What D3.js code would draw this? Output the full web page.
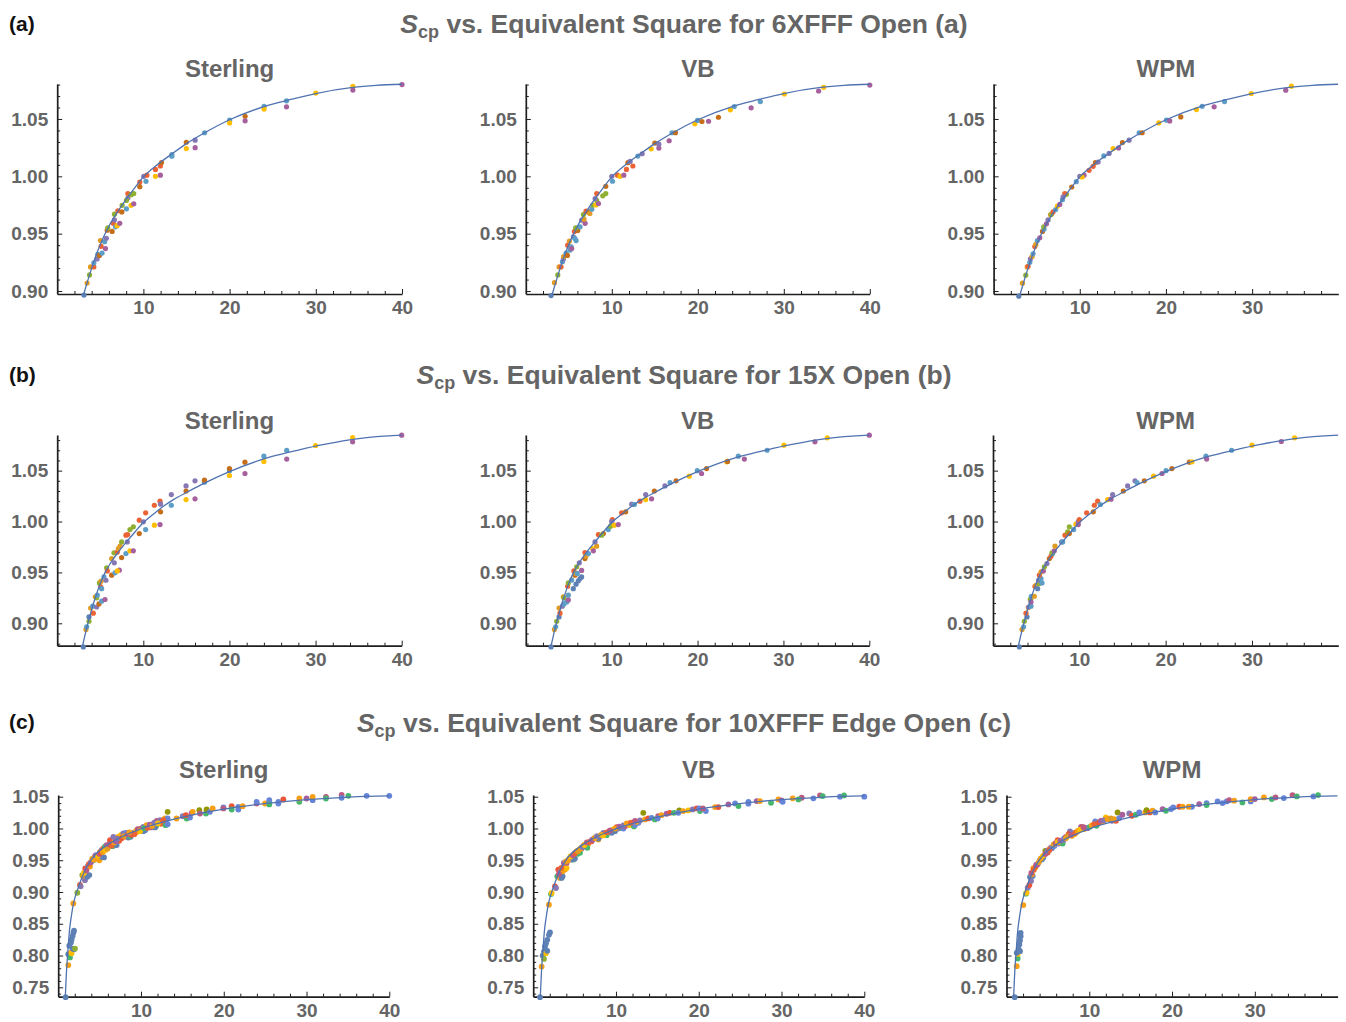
<!DOCTYPE html>
<html><head><meta charset="utf-8">
<script src="https://cdn.jsdelivr.net/npm/d3@7"></script>
<style>
body{margin:0;background:#fff}
svg{display:block}
text{font-family:"Liberation Sans",Arial,sans-serif;font-weight:bold}
</style></head>
<body><svg id="chart" width="1346" height="1022"></svg>
<script>
// Mathematica default palette (index used as 3rd element of each point)
const PALETTE = ["#5E81B5","#E19C24","#8FB032","#EB6235","#8778B3","#C56E1A","#5D9EC7","#FFBF00","#A5609D","#929600","#E95536","#6685D9","#F89F13","#BC5B80","#47B66D"];

const ROW_LABELS = ["(a)","(b)","(c)"];
const ROW_TITLES = ["6XFFF Open (a)","15X Open (b)","10XFFF Edge Open (c)"];
const PANEL_TITLES = ["Sterling","VB","WPM"];
const Y_TICKS_AB = [0.90,0.95,1.00,1.05];
const Y_TICKS_C = [0.75,0.80,0.85,0.90,0.95,1.00,1.05];
const X_TICKS = [10,20,30,40];
const X_TICKS_WPM = [10,20,30];

// fitted curves [x, Scp]
const CURVE_A = [[3.05,0.8965],[3.5,0.908],[4.0,0.920],[4.5,0.931],[5.0,0.9405],[5.5,0.949],[6.0,0.9565],[7.0,0.969],[8.0,0.980],[9.0,0.990],[10.0,0.9995],[11.5,1.0095],[13.3,1.0195],[15.0,1.0285],[17.1,1.038],[20.0,1.0493],[24.0,1.0608],[27.0,1.0668],[30.0,1.0722],[34.3,1.0775],[37,1.0793],[40,1.0803]];
const CURVE_B = [[2.95,0.878],[3.4,0.8945],[4.0,0.9135],[4.5,0.927],[4.9,0.937],[5.6,0.9505],[6.25,0.960],[7.0,0.969],[8.0,0.9795],[9.0,0.9895],[10.0,0.999],[11.2,1.0075],[12.5,1.016],[13.5,1.0215],[15.0,1.0285],[16.8,1.0365],[20.0,1.049],[24.75,1.0635],[28.1,1.0705],[31.0,1.0758],[35.0,1.0815],[40.0,1.0848]];
const CURVE_C = [[0.86,0.7352],[1.0,0.775],[1.15,0.803],[1.35,0.838],[1.6,0.863],[1.83,0.881],[2.1,0.8945],[2.4,0.906],[2.7,0.917],[3.0,0.927],[3.44,0.939],[4.0,0.951],[4.65,0.961],[5.5,0.970],[6.26,0.977],[7.0,0.9825],[8.27,0.9905],[10,0.9995],[13.1,1.0115],[17.1,1.0236],[20,1.0305],[25.2,1.0395],[30,1.0455],[35.2,1.0495],[40,1.0512]];

// measured points [x, Scp, colour index]
const A_STER = [[3.1,0.8965,0],[3.47,0.907,1],[3.75,0.914,2],[3.86,0.921,1],[4.25,0.921,3],[4.25,0.9245,6],[4.63,0.928,4],[4.71,0.932,6],[4.9,0.931,5],[5.02,0.944,1],[5.1,0.939,3],[5.2,0.933,6],[5.6,0.937,8],[5.5,0.943,6],[5.7,0.946,4],[5.8,0.953,5],[5.87,0.955,2],[6.5,0.959,3],[6.37,0.952,5],[6.76,0.956,6],[6.95,0.957,7],[7.26,0.959,8],[6.64,0.967,2],[6.64,0.962,4],[7.03,0.970,3],[7.5,0.969,5],[7.53,0.9747,2],[8.03,0.9717,6],[8.57,0.9747,7],[8.88,0.976,8],[8.2,0.985,3],[8.2,0.981,4],[8.57,0.984,2],[8.88,0.985,2],[8.03,0.979,2],[9.58,0.995,3],[9.58,0.991,5],[10.04,1.0,4],[10.4,1.001,3],[10.3,0.9956,6],[11.4,1.0,7],[11.4,1.006,3],[11.97,1.001,8],[11.97,1.009,3],[12.1,1.012,5],[13.3,1.019,6],[13.3,1.0175,6],[14.98,1.0297,5],[14.98,1.0242,7],[16.0,1.0315,4],[16.0,1.025,8],[17.1,1.038,6],[20.0,1.049,6],[20.0,1.0466,7],[21.8,1.0524,5],[21.8,1.0484,8],[24.0,1.061,6],[24.0,1.0586,7],[26.6,1.0658,6],[26.6,1.0606,8],[30.0,1.0726,7],[34.3,1.0784,7],[34.3,1.0752,8],[40.0,1.080,8]];
const A_VB = [[2.94,0.896,0],[3.33,0.9073,1],[3.72,0.914,2],[3.87,0.921,1],[4.1,0.921,3],[4.26,0.9256,6],[4.37,0.928,4],[4.4,0.930,1],[4.68,0.933,6],[4.84,0.931,5],[4.87,0.940,3],[5.07,0.9435,1],[5.15,0.9357,6],[5.27,0.9386,6],[5.34,0.937,8],[5.53,0.9473,4],[5.7,0.946,6],[5.85,0.944,6],[5.65,0.952,3],[6.04,0.9528,5],[5.8,0.955,2],[6.31,0.956,6],[6.5,0.9618,4],[6.9,0.959,8],[6.77,0.9626,1],[6.7,0.9667,2],[7.0,0.9696,3],[7.25,0.969,5],[7.45,0.9676,1],[7.67,0.9713,6],[7.79,0.975,2],[8.14,0.975,7],[8.25,0.979,2],[8.45,0.9762,8],[8.25,0.985,3],[8.06,0.9806,4],[8.95,0.983,2],[9.3,0.985,2],[9.3,0.9913,5],[10.08,0.9957,6],[10.0,1.0,4],[10.66,1.001,3],[10.97,1.0,7],[11.4,1.001,8],[11.7,1.006,3],[12.45,1.009,3],[11.87,1.0119,5],[12.13,1.013,4],[13.03,1.0177,6],[13.53,1.0197,4],[14.58,1.024,7],[15.0,1.029,5],[15.47,1.0246,8],[15.47,1.028,4],[16.67,1.031,8],[17.0,1.038,6],[17.4,1.038,5],[19.66,1.0458,7],[19.97,1.0487,6],[20.48,1.0478,5],[21.25,1.048,8],[22.4,1.0515,5],[23.78,1.058,7],[24.24,1.0608,6],[26.2,1.0597,8],[27.27,1.0652,6],[30.06,1.0718,7],[34.05,1.0744,8],[34.64,1.0776,7],[40.0,1.0796,8]];
const A_WPM = [[2.92,0.8955,0],[3.35,0.9068,1],[3.73,0.9138,2],[3.9,0.921,1],[4.0,0.9215,3],[4.2,0.925,6],[4.27,0.928,4],[4.47,0.930,1],[4.58,0.9324,6],[4.78,0.9388,3],[4.9,0.9406,1],[5.08,0.944,6],[5.36,0.9464,8],[5.67,0.952,5],[5.86,0.954,6],[5.82,0.956,2],[6.13,0.9586,8],[6.32,0.962,4],[6.6,0.9665,1],[6.71,0.967,2],[6.9,0.969,3],[7.2,0.971,6],[7.4,0.974,7],[7.68,0.9755,8],[7.99,0.9796,6],[8.45,0.9843,2],[8.26,0.985,3],[8.07,0.982,4],[9.07,0.9907,5],[9.6,0.9953,6],[10.0,1.0,4],[10.5,1.001,8],[10.27,0.9994,7],[11.08,1.0052,3],[11.55,1.0087,3],[11.82,1.012,5],[12.13,1.0125,4],[12.79,1.0178,6],[13.4,1.02,4],[13.87,1.0242,7],[14.5,1.0248,8],[14.95,1.0294,5],[15.72,1.0315,4],[16.89,1.038,6],[17.24,1.038,5],[19.17,1.0466,7],[20.06,1.049,6],[20.44,1.0483,8],[21.72,1.0518,5],[23.54,1.0582,7],[24.2,1.0611,6],[25.59,1.0606,8],[26.8,1.0652,6],[29.9,1.0722,7],[33.9,1.0751,8],[34.56,1.0786,7]];

const B_STER = [[3.03,0.8768,0],[3.34,0.894,1],[3.42,0.8965,6],[3.69,0.902,2],[3.69,0.9063,0],[4.19,0.910,3],[3.88,0.915,1],[4.12,0.9168,6],[4.58,0.916,4],[4.43,0.926,1],[4.58,0.925,2],[4.66,0.9276,6],[4.85,0.919,5],[5.16,0.9217,6],[5.55,0.9234,8],[4.9,0.9397,2],[5.09,0.9414,1],[5.05,0.9358,3],[5.16,0.934,6],[5.43,0.9456,6],[5.66,0.9423,4],[5.74,0.9545,2],[5.82,0.9515,3],[6.32,0.9473,5],[6.71,0.9496,6],[6.32,0.9636,1],[6.59,0.9692,2],[6.63,0.9594,4],[7.21,0.9522,8],[6.98,0.9515,7],[6.98,0.970,3],[7.1,0.9735,1],[7.29,0.9758,1],[7.48,0.9646,5],[7.48,0.980,2],[7.98,0.9686,6],[7.98,0.9866,3],[8.18,0.9872,3],[8.14,0.980,4],[8.45,0.9712,7],[8.84,0.9712,8],[8.45,0.9921,2],[8.84,0.9948,2],[9.53,0.9882,5],[9.53,1.0013,3],[10.0,0.9997,4],[10.27,0.9921,6],[10.27,1.0085,3],[11.28,0.9964,7],[11.28,1.016,3],[11.94,0.997,8],[11.94,1.020,3],[12.0,1.017,4],[12.0,1.0095,5],[13.25,1.016,6],[13.25,1.0265,4],[14.96,1.0216,7],[14.96,1.035,4],[14.96,1.030,5],[16.0,1.0223,8],[16.0,1.040,4],[17.1,1.0386,6],[17.1,1.0406,5],[20.0,1.050,6],[20.0,1.052,5],[20.0,1.0452,7],[21.8,1.0583,5],[21.8,1.0472,8],[24.0,1.0642,6],[24.0,1.059,7],[26.65,1.070,6],[26.65,1.0613,8],[30.0,1.0747,7],[34.3,1.0825,7],[34.3,1.0783,8],[40.0,1.0848,8]];
const B_VB = [[2.94,0.8768,0],[3.33,0.894,1],[3.48,0.8965,6],[3.6,0.902,2],[3.87,0.9063,0],[3.98,0.910,3],[3.87,0.915,1],[4.26,0.9168,4],[4.45,0.919,6],[4.37,0.926,1],[4.45,0.925,2],[4.76,0.921,6],[4.95,0.923,8],[4.95,0.9276,6],[4.87,0.9364,3],[4.95,0.9397,2],[5.34,0.9424,6],[5.6,0.9515,3],[5.73,0.9473,5],[5.85,0.949,1],[5.93,0.9555,2],[6.0,0.949,6],[5.53,0.934,0],[5.85,0.9384,0],[6.12,0.9417,0],[6.31,0.944,0],[6.5,0.9456,0],[6.5,0.952,8],[6.23,0.9594,4],[6.89,0.9695,3],[6.89,0.9636,5],[7.0,0.966,1],[7.29,0.9686,6],[7.79,0.9735,7],[7.87,0.9712,8],[8.25,0.9758,1],[8.06,0.980,4],[8.45,0.9872,3],[9.03,0.9882,5],[8.83,0.9866,2],[9.6,0.9921,6],[9.88,0.9954,2],[10.08,1.002,3],[10.0,1.0,4],[10.31,0.9964,7],[10.77,0.997,8],[11.16,1.0085,3],[11.63,1.0095,5],[12.33,1.017,4],[12.64,1.0167,6],[13.3,1.020,3],[13.96,1.0216,7],[13.96,1.0265,4],[14.65,1.0223,8],[14.97,1.030,5],[16.2,1.035,4],[16.8,1.0383,6],[17.5,1.040,5],[19.04,1.0445,7],[19.97,1.050,6],[20.47,1.0472,8],[21.05,1.052,5],[23.4,1.0586,7],[23.5,1.059,5],[24.75,1.0642,6],[25.45,1.0613,8],[28.1,1.070,6],[30.06,1.075,7],[33.67,1.0783,8],[35.1,1.0822,7],[40.0,1.0848,8]];
const B_WPM = [[3.05,0.8768,0],[3.36,0.894,1],[3.55,0.8965,6],[3.63,0.902,2],[3.94,0.9063,0],[3.82,0.910,3],[4.09,0.9155,1],[4.13,0.916,4],[4.4,0.9168,6],[4.4,0.9243,1],[4.32,0.9233,2],[4.4,0.921,8],[4.44,0.9266,6],[4.79,0.9266,1],[4.86,0.9364,3],[4.98,0.9374,1],[5.17,0.934,0],[5.37,0.939,2],[5.29,0.9424,4],[5.56,0.944,6],[5.37,0.9473,3],[5.56,0.9505,1],[5.83,0.9515,8],[5.95,0.9555,2],[5.68,0.9397,6],[6.25,0.9587,4],[6.53,0.9636,5],[6.72,0.966,3],[6.91,0.9686,6],[6.83,0.9692,2],[7.1,0.9712,8],[7.18,0.9758,1],[7.95,0.980,4],[8.07,0.980,6],[8.34,0.9866,3],[8.65,0.9898,2],[8.84,0.9948,2],[8.84,0.9882,5],[9.34,0.9921,6],[9.6,0.9974,7],[9.88,1.0,4],[9.88,0.997,8],[10.0,1.002,3],[10.85,1.0085,3],[11.62,1.0095,5],[11.74,1.016,3],[12.12,1.020,3],[12.43,1.0167,6],[13.28,1.0216,7],[13.86,1.0265,4],[13.67,1.022,8],[15.1,1.030,5],[15.6,1.035,4],[16.45,1.040,4],[16.68,1.0383,6],[17.53,1.040,5],[18.6,1.0445,7],[19.58,1.0472,8],[20.04,1.050,6],[20.73,1.052,5],[22.74,1.0583,5],[23.05,1.0586,7],[24.67,1.0642,6],[24.75,1.0613,8],[27.64,1.070,6],[30.0,1.075,7],[33.4,1.0786,8],[34.94,1.0822,7]];

const C_STER = [[0.9,0.7345,0],[1.22,0.785,12],[1.22,0.802,0],[1.42,0.797,14],[1.54,0.805,12],[1.62,0.8034,7],[1.34,0.8154,0],[1.54,0.8207,0],[1.62,0.8254,0],[1.74,0.8306,0],[1.83,0.8359,0],[1.91,0.839,0],[1.74,0.811,0],[1.91,0.8097,0],[2.03,0.811,2],[1.83,0.882,12],[2.31,0.8988,2],[2.63,0.911,3],[2.71,0.909,4],[2.91,0.9266,2],[3.03,0.924,12],[3.23,0.9187,4],[3.35,0.925,1],[3.52,0.924,0],[3.76,0.9266,0],[3.27,0.937,10],[3.6,0.941,4],[3.84,0.94,12],[4.24,0.95,14],[4.45,0.9565,10],[4.65,0.9528,8],[4.97,0.95,12],[5.25,0.9554,0],[5.53,0.9544,0],[5.05,0.9633,1],[5.25,0.966,4],[5.45,0.9685,3],[5.65,0.9712,14],[5.85,0.9738,8],[6.06,0.9722,12],[6.34,0.9764,7],[6.26,0.9816,10],[6.66,0.9869,4],[6.86,0.9738,0],[6.58,0.9722,14],[7.06,0.9738,0],[7.26,0.9869,12],[7.46,0.9843,13],[7.38,0.9806,3],[7.55,0.9895,7],[7.87,0.9921,4],[8.19,0.9869,12],[8.19,0.9932,11],[8.75,0.9869,0],[8.47,0.9858,0],[8.67,0.988,14],[8.87,0.99,10],[9.07,0.9932,8],[9.39,0.9963,7],[9.55,0.9948,12],[9.8,0.9984,14],[10.08,1.0,10],[10.28,1.0026,4],[10.28,0.9958,0],[10.5,0.9974,0],[10.68,1.0052,12],[10.9,1.0037,7],[11.18,1.0016,8],[11.5,1.0068,10],[11.82,1.0037,14],[11.9,1.012,13],[12.3,1.0131,4],[12.62,1.0105,12],[11.7,1.0016,0],[12.42,1.0073,3],[12.9,1.0157,12],[12.98,1.0052,14],[13.22,1.0068,11],[13.22,1.0157,11],[13.22,1.0262,9],[14.3,1.0157,12],[15.04,1.0194,4],[15.52,1.0157,14],[15.92,1.0173,11],[15.44,1.021,10],[16.13,1.0246,8],[16.25,1.0262,12],[17.05,1.0288,9],[17.13,1.0236,13],[17.85,1.0236,14],[17.93,1.0299,9],[18.33,1.0262,11],[18.66,1.0315,12],[19.96,1.033,11],[19.96,1.0315,13],[20.96,1.0351,10],[20.96,1.0299,14],[21.76,1.0299,11],[21.76,1.0341,11],[22.28,1.0351,12],[23.97,1.0393,13],[23.97,1.042,11],[24.99,1.0393,12],[25.5,1.0446,11],[25.5,1.0404,11],[25.5,1.0378,14],[26.6,1.042,11],[26.6,1.0393,11],[27.2,1.0456,10],[29.13,1.042,14],[29.13,1.0472,12],[30.0,1.0472,8],[30.74,1.0446,11],[30.74,1.0498,12],[32.35,1.0498,13],[32.35,1.0472,14],[34.24,1.053,13],[34.24,1.0482,11],[35.05,1.0514,14],[37.26,1.0514,11],[40,1.0514,11],
[3.1,0.93,7],[3.4,0.934,13],[3.7,0.944,3],[3.95,0.947,8],[4.1,0.952,1],[4.35,0.951,12],[4.55,0.958,4],[4.8,0.957,7],[5.0,0.96,13],[5.15,0.962,10],[5.4,0.963,12],[5.7,0.966,7],[5.95,0.968,1],[6.15,0.975,13],[6.45,0.973,3],[6.75,0.978,12],[6.95,0.98,8],[7.15,0.984,4],[7.7,0.985,10],[7.95,0.988,1],[8.4,0.991,13],[8.6,0.994,12],[9.2,0.991,3],[9.6,0.999,13],[9.9,0.996,7],[10.4,1.0005,14],[10.8,1.001,3],[11.05,1.006,8],[11.35,1.004,12],[11.6,1.009,4],[12.05,1.008,7],[12.7,1.013,3]];
const C_VB = [[0.82,0.7345,0],[1.02,0.7826,12],[1.14,0.80,0],[1.3,0.8063,0],[1.42,0.8142,0],[1.54,0.8195,0],[1.7,0.8247,0],[1.9,0.8326,0],[2.03,0.8363,0],[1.3,0.7947,2],[1.54,0.8037,7],[1.7,0.8074,0],[1.9,0.88,12],[2.15,0.8968,14],[2.23,0.8984,7],[2.63,0.909,10],[2.75,0.9063,4],[2.91,0.9247,14],[3.23,0.9221,12],[3.43,0.9221,0],[3.55,0.9247,0],[3.03,0.9353,10],[3.31,0.9326,4],[3.55,0.9326,12],[3.84,0.9353,12],[4.04,0.9379,7],[3.72,0.9405,7],[4.04,0.9458,13],[4.36,0.9526,4],[4.64,0.9547,10],[4.84,0.9511,14],[4.44,0.9511,12],[4.64,0.9511,0],[5.04,0.9526,0],[5.33,0.96,14],[5.65,0.9616,14],[5.25,0.9642,12],[5.57,0.9668,7],[5.85,0.9684,8],[6.13,0.9737,10],[6.46,0.9774,4],[6.66,0.9758,12],[6.25,0.9721,11],[6.54,0.9695,14],[7.06,0.98,10],[7.35,0.9842,13],[7.66,0.9863,7],[7.87,0.9826,12],[7.87,0.9842,0],[8.07,0.9879,0],[8.47,0.9932,4],[8.67,0.9905,10],[8.87,0.9895,14],[9.19,0.9958,8],[9.48,0.9947,12],[9.68,0.9984,7],[9.48,0.9932,0],[9.88,0.9958,0],[10.08,1.0021,10],[10.28,1.0,4],[10.56,1.001,14],[10.8,1.0032,12],[10.89,1.0,11],[11.09,1.0037,13],[11.49,1.0063,10],[11.69,1.0053,7],[12.0,1.009,8],[12.17,1.0032,14],[12.3,1.0053,11],[12.7,1.009,11],[12.5,1.0105,12],[12.9,1.0126,4],[13.3,1.0247,9],[13.5,1.0142,12],[13.9,1.0158,10],[14.3,1.0168,11],[14.7,1.0142,14],[15.1,1.0195,13],[15.5,1.021,12],[15.04,1.0158,11],[16.12,1.0232,8],[16.5,1.0247,10],[17.0,1.0247,14],[17.65,1.0284,9],[17.53,1.0247,11],[18.13,1.0274,12],[18.74,1.0284,7],[19.26,1.03,4],[19.75,1.0316,10],[20.15,1.0274,14],[20.06,1.0316,11],[20.86,1.0274,11],[20.5,1.0316,13],[21.97,1.0337,12],[22.37,1.0337,10],[23.58,1.0379,8],[24.39,1.0395,11],[24.8,1.0353,14],[26.0,1.039,11],[26.0,1.042,11],[27.0,1.0432,8],[27.4,1.0432,12],[28.73,1.0405,14],[29.62,1.0458,12],[30.0,1.0442,8],[30.14,1.0421,11],[31.35,1.0474,12],[32.44,1.0484,13],[32.04,1.0458,14],[33.85,1.0474,11],[34.65,1.0521,13],[34.97,1.051,14],[37.06,1.05,11],[37.55,1.0521,14],[40.0,1.05,11],
[3.1,0.928,13],[3.4,0.938,3],[3.7,0.946,8],[3.95,0.948,1],[4.2,0.95,12],[4.5,0.956,7],[4.8,0.958,13],[5.05,0.961,3],[5.4,0.964,1],[5.75,0.969,12],[5.95,0.971,4],[6.2,0.974,7],[6.5,0.978,13],[6.8,0.979,3],[7.1,0.982,8],[7.45,0.985,12],[7.7,0.988,4],[8.2,0.99,1],[8.45,0.989,7],[8.9,0.994,3],[9.3,0.997,13],[9.9,1.0,12],[10.4,1.003,8],[10.9,1.005,4],[11.3,1.008,12],[11.8,1.009,3],[12.3,1.012,13]];
const C_WPM = [[0.99,0.7345,0],[1.23,0.7832,12],[1.35,0.7953,14],[1.35,0.8026,7],[1.23,0.8042,0],[1.47,0.8095,0],[1.55,0.8174,0],[1.63,0.8237,0],[1.71,0.8305,0],[1.71,0.8358,0],[1.63,0.8068,0],[2.03,0.8795,12],[2.35,0.8974,14],[2.43,0.899,7],[2.56,0.9068,4],[2.76,0.911,10],[2.84,0.9237,0],[3.16,0.9253,0],[2.96,0.9174,4],[3.08,0.9279,12],[3.24,0.9374,12],[3.48,0.9384,7],[3.56,0.9411,10],[3.76,0.9437,13],[4.04,0.95,4],[4.29,0.9516,0],[4.45,0.9542,0],[4.69,0.9647,9],[4.97,0.9621,10],[5.17,0.9674,12],[5.37,0.97,8],[5.57,0.9711,7],[5.49,0.969,11],[5.77,0.9726,11],[6.18,0.9816,10],[6.3,0.9763,4],[6.58,0.9779,12],[6.78,0.9763,14],[6.98,0.9847,11],[7.18,0.9868,13],[7.67,0.9953,4],[7.5,0.9911,10],[7.91,0.9884,12],[8.19,0.9911,7],[7.99,0.9921,11],[8.39,0.9937,14],[9.0,1.0026,8],[9.2,1.0016,10],[9.4,0.999,12],[9.6,1.0005,11],[9.8,1.0005,4],[10.08,1.0026,14],[10.72,1.011,11],[11.0,1.0079,11],[10.88,1.0042,14],[11.2,1.0095,10],[11.6,1.011,12],[12.0,1.0174,7],[12.41,1.0147,13],[12.74,1.0121,4],[13.42,1.0253,9],[13.22,1.0121,10],[13.02,1.0147,12],[13.62,1.0163,11],[14.0,1.0216,8],[14.83,1.0237,4],[15.15,1.02,10],[15.63,1.0216,14],[16.03,1.0253,11],[16.76,1.0253,12],[16.92,1.0289,9],[17.32,1.0253,10],[17.65,1.0279,12],[17.97,1.0253,11],[18.86,1.0305,8],[19.26,1.0279,14],[19.87,1.0305,11],[20.15,1.0332,11],[20.87,1.0342,10],[21.27,1.0342,12],[22.4,1.0342,11],[22.0,1.0342,12],[23.28,1.0384,8],[24.17,1.04,11],[24.17,1.0368,14],[25.5,1.0426,11],[26.1,1.04,11],[26.6,1.0426,11],[26.9,1.0447,13],[27.5,1.0437,12],[28.5,1.041,14],[29.5,1.0426,11],[29.5,1.0463,12],[30.0,1.0463,8],[31.1,1.0489,12],[32.05,1.0463,14],[32.5,1.0489,13],[33.5,1.0479,11],[34.55,1.0526,13],[35.07,1.0505,14],[37.08,1.0505,11],[37.64,1.0526,14],
[3.0,0.93,13],[3.3,0.935,3],[3.6,0.943,8],[3.9,0.947,1],[4.15,0.953,12],[4.4,0.957,7],[4.7,0.96,13],[4.95,0.965,4],[5.2,0.966,3],[5.7,0.975,1],[5.95,0.977,13],[6.2,0.979,7],[6.5,0.981,8],[6.9,0.982,4],[7.2,0.985,12],[7.4,0.988,1],[7.8,0.99,13],[8.3,0.993,3],[8.6,0.996,12],[8.9,0.998,7],[9.3,1.002,13],[10.3,1.005,12],[10.6,1.007,3],[11.4,1.012,8],[11.8,1.013,4],[12.2,1.015,12],[12.6,1.016,1]];

// ---------- layout ----------
const svg = d3.select("#chart");
const FONT = '"Liberation Sans",Arial,sans-serif';
const rows = [
  {data:[A_STER,A_VB,A_WPM], curve:CURVE_A, yDom:[0.8974,1.0805], yTicks:Y_TICKS_AB, yMinorFrom:0.90, top:84, bottom:294,
   cols:[[57.2,402],[525.8,869.8],[993.6,1338.3]], titleY:33, labelY:31, subY:77, r:2.6},
  {data:[B_STER,B_VB,B_WPM], curve:CURVE_B, yDom:[0.878,1.085], yTicks:Y_TICKS_AB, yMinorFrom:0.88, top:435, bottom:645.7,
   cols:[[57.2,401.7],[525.8,869.3],[993,1338.3]], titleY:384, labelY:382, subY:429, r:2.6},
  {data:[C_STER,C_VB,C_WPM], curve:CURVE_C, yDom:[0.7352,1.0527], yTicks:Y_TICKS_C, yMinorFrom:0.74, top:795, bottom:996.7,
   cols:[[58.2,389.3],[533.2,864.3],[1006.5,1337.6]], titleY:732, labelY:729, subY:778, r:2.9}
];

const TEXT_GRAY = "#656565";
const AXIS_COL = "#1e1e1e";

rows.forEach((row, ri) => {
  svg.append("text").attr("x", 9).attr("y", row.labelY)
    .attr("font-size", 21).attr("fill", "#111").text(ROW_LABELS[ri]);
  const t = svg.append("text").attr("x", 684).attr("y", row.titleY)
    .attr("text-anchor", "middle").attr("font-size", 26.5).attr("fill", TEXT_GRAY);
  t.append("tspan").attr("font-style", "italic").text("S");
  t.append("tspan").attr("font-size", 18).attr("dy", 5).text("cp");
  t.append("tspan").attr("dy", -5).text(" vs. Equivalent Square for " + ROW_TITLES[ri]);

  row.cols.forEach((rng, ci) => {
    const x = d3.scaleLinear().domain([0, 40]).range(rng);
    const y = d3.scaleLinear().domain(row.yDom).range([row.bottom, row.top]);
    const g = svg.append("g");

    svg.append("text").attr("x", (rng[0] + rng[1]) / 2).attr("y", row.subY)
      .attr("text-anchor", "middle").attr("font-size", 24).attr("fill", TEXT_GRAY)
      .text(PANEL_TITLES[ci]);

    const xMajor = ci === 2 ? X_TICKS_WPM : X_TICKS;
    const xMinor = d3.range(2, 40, 2).filter(v => v % 10 !== 0);
    const yMinor = d3.range(Math.round(row.yMinorFrom*100), Math.floor(row.yDom[1]*100)+1).map(v => v/100)
      .filter(v => !row.yTicks.some(t => Math.abs(t - v) < 1e-6) && v >= row.yDom[0]);

    g.append("g").attr("transform", `translate(0,${row.bottom})`)
      .call(d3.axisBottom(x).tickValues(xMinor).tickSize(-3).tickFormat(""))
      .call(s => s.select(".domain").remove());
    g.append("g").attr("transform", `translate(${rng[0]},0)`)
      .call(d3.axisLeft(y).tickValues(yMinor).tickSize(-3).tickFormat(""))
      .call(s => s.select(".domain").remove());
    g.append("g").attr("transform", `translate(0,${row.bottom})`)
      .call(d3.axisBottom(x).tickValues(xMajor).tickSize(-5).tickSizeOuter(0).tickPadding(7).tickFormat(d3.format("d")));
    g.append("g").attr("transform", `translate(${rng[0]},0)`)
      .call(d3.axisLeft(y).tickValues(row.yTicks).tickSize(-5).tickSizeOuter(0).tickPadding(9).tickFormat(d3.format(".2f")));

    g.selectAll(".tick line").attr("stroke", AXIS_COL).attr("stroke-width", 1);
    g.selectAll(".domain").attr("stroke", AXIS_COL).attr("stroke-width", 1.7);
    g.selectAll(".tick text").attr("fill", TEXT_GRAY).attr("font-size", 19)
      .attr("font-family", FONT).attr("font-weight", "bold");

    g.append("g").selectAll("circle").data(row.data[ci]).join("circle")
      .attr("cx", d => x(d[0])).attr("cy", d => y(d[1])).attr("r", row.r)
      .attr("fill", d => PALETTE[d[2]]);

    const xMax = ci === 2 ? 39.98 : 40;
    const line = d3.line().x(d => x(Math.min(d[0], xMax))).y(d => y(d[1])).curve(d3.curveMonotoneX);
    g.append("path").datum(row.curve).attr("d", line)
      .attr("fill", "none").attr("stroke", "#4F72B0").attr("stroke-width", 1.3);
  });
});
</script>
</body></html>
